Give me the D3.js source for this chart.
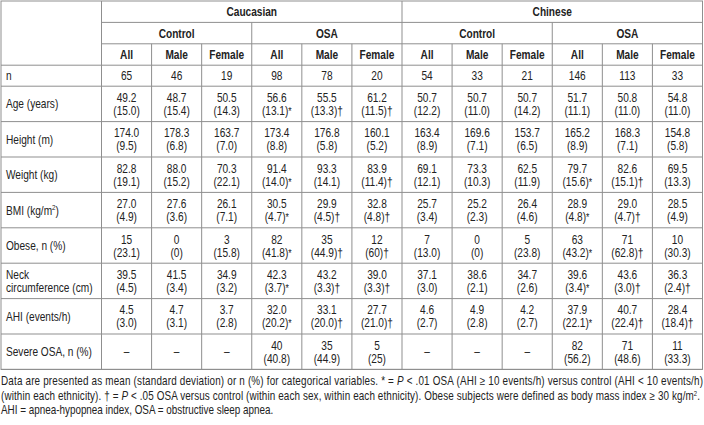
<!DOCTYPE html>
<html><head><meta charset="utf-8">
<script src="https://cdn.jsdelivr.net/npm/d3@7"></script>
<style>
html,body{margin:0;padding:0;background:#fff;}
svg{display:block;}
text{font-family:"Liberation Sans",Arial,sans-serif;fill:#222;}
</style></head>
<body>
<svg id="chart" width="704" height="425"></svg>
<script>
// ---- data ----
const ethnicities = ["Caucasian", "Chinese"];
const groups = ["Control", "OSA"];
const sexes = ["All", "Male", "Female"];
const rowLabels = ["n", "Age (years)", "Height (m)", "Weight (kg)", "BMI (kg/m²)", "Obese, n (%)", "Neck|circumference (cm)", "AHI (events/h)", "Severe OSA, n (%)"];
const nRow = ["65", "46", "19", "98", "78", "20", "54", "33", "21", "146", "113", "33"];
const ageRow = ["49.2 (15.0)", "48.7 (15.4)", "50.5 (14.3)", "56.6 (13.1)*", "55.5 (13.3)†", "61.2 (11.5)†", "50.7 (12.2)", "50.7 (11.0)", "50.7 (14.2)", "51.7 (11.1)", "50.8 (11.0)", "54.8 (11.0)"];
const heightRow = ["174.0 (9.5)", "178.3 (6.8)", "163.7 (7.0)", "173.4 (8.8)", "176.8 (5.8)", "160.1 (5.2)", "163.4 (8.9)", "169.6 (7.1)", "153.7 (6.5)", "165.2 (8.9)", "168.3 (7.1)", "154.8 (5.8)"];
const weightRow = ["82.8 (19.1)", "88.0 (15.2)", "70.3 (22.1)", "91.4 (14.0)*", "93.3 (14.1)", "83.9 (11.4)†", "69.1 (12.1)", "73.3 (10.3)", "62.5 (11.9)", "79.7 (15.6)*", "82.6 (15.1)†", "69.5 (13.3)"];
const bmiRow = ["27.0 (4.9)", "27.6 (3.6)", "26.1 (7.1)", "30.5 (4.7)*", "29.9 (4.5)†", "32.8 (4.8)†", "25.7 (3.4)", "25.2 (2.3)", "26.4 (4.6)", "28.9 (4.8)*", "29.0 (4.7)†", "28.5 (4.9)"];
const obeseRow = ["15 (23.1)", "0 (0)", "3 (15.8)", "82 (41.8)*", "35 (44.9)†", "12 (60)†", "7 (13.0)", "0 (0)", "5 (23.8)", "63 (43.2)*", "71 (62.8)†", "10 (30.3)"];
const neckRow = ["39.5 (4.5)", "41.5 (3.4)", "34.9 (3.2)", "42.3 (3.7)*", "43.2 (3.3)†", "39.0 (3.3)†", "37.1 (3.0)", "38.6 (2.1)", "34.7 (2.6)", "39.6 (3.4)*", "43.6 (3.0)†", "36.3 (2.4)†"];
const ahiRow = ["4.5 (3.0)", "4.7 (3.1)", "3.7 (2.8)", "32.0 (20.2)*", "33.1 (20.0)†", "27.7 (21.0)†", "4.6 (2.7)", "4.9 (2.8)", "4.2 (2.7)", "37.9 (22.1)*", "40.7 (22.4)†", "28.4 (18.4)†"];
const severeRow = ["–", "–", "–", "40 (40.8)", "35 (44.9)", "5 (25)", "–", "–", "–", "82 (56.2)", "71 (48.6)", "11 (33.3)"];
const footnote = [
  "Data are presented as mean (standard deviation) or n (%) for categorical variables. * = |P| < .01 OSA (AHI ≥ 10 events/h) versus control (AHI < 10 events/h)",
  "(within each ethnicity). † = |P| < .05 OSA versus control (within each sex, within each ethnicity). Obese subjects were defined as body mass index ≥ 30 kg/m².",
  "AHI = apnea-hypopnea index, OSA = obstructive sleep apnea."
];

// ---- layout ----
const rows = [nRow, ageRow, heightRow, weightRow, bmiRow, obeseRow, neckRow, ahiRow, severeRow];
const svg = d3.select("#chart");
const tLeft = 1, tRight = 702.5, firstColW = 100.5;
const ncol = ethnicities.length * groups.length * sexes.length;
const x = d3.scaleLinear().domain([0, ncol]).range([tLeft + firstColW, tRight]);
const tTop = 1, hdrH = 21.4, nH = 21, rowH = 35.4;
const hdrY = d3.scaleLinear().domain([0, 3]).range([tTop, tTop + 3 * hdrH]);
const bodyTop = tTop + 3 * hdrH;
const yRow = i => i === 0 ? bodyTop : bodyTop + nH + (i - 1) * rowH;
const rowHeight = i => i === 0 ? nH : rowH;
const tBottom = yRow(rows.length);
const lineColor = "#8f8f8f";
const fs = 12.5;
const SX = 0.81;

const g = svg.append("g");
function hline(x1, x2, y) {
  g.append("line").attr("x1", x1).attr("x2", x2).attr("y1", y).attr("y2", y)
    .attr("stroke", lineColor).attr("stroke-width", 1);
}
function vline(xx, y1, y2) {
  g.append("line").attr("x1", xx).attr("x2", xx).attr("y1", y1).attr("y2", y2)
    .attr("stroke", lineColor).attr("stroke-width", 1);
}

g.append("rect").attr("x", tLeft).attr("y", tTop).attr("width", tRight - tLeft).attr("height", tBottom - tTop)
  .attr("fill", "none").attr("stroke", lineColor).attr("stroke-width", 1);

hline(x(0), tRight, hdrY(1));
hline(x(0), tRight, hdrY(2));
for (let i = 0; i <= rows.length; i++) hline(tLeft, tRight, yRow(i));
vline(x(0), tTop, tBottom);
for (let c = 1; c < ncol; c++) {
  const yStart = c % 6 === 0 ? tTop : (c % 3 === 0 ? hdrY(1) : hdrY(2));
  vline(x(c), yStart, tBottom);
}

const txt = g.append("g");
// condensed text: horizontal scale applied via transform
function addText(xx, yy, anchor, size, bold) {
  return txt.append("text")
    .attr("transform", `translate(${xx},${yy}) scale(${SX},1)`)
    .attr("text-anchor", anchor).attr("font-size", size)
    .attr("font-weight", bold ? "bold" : "normal");
}
function center(xx, yc, s, bold) {
  return addText(xx, yc + fs * 0.36, "middle", fs, bold).text(s);
}
ethnicities.forEach((e, ei) => {
  center((x(ei * 6) + x(ei * 6 + 6)) / 2, (hdrY(0) + hdrY(1)) / 2, e, true);
  groups.forEach((gr, gi) => {
    const c0 = ei * 6 + gi * 3;
    center((x(c0) + x(c0 + 3)) / 2, (hdrY(1) + hdrY(2)) / 2, gr, true);
    sexes.forEach((s, si) => {
      const c = c0 + si;
      center((x(c) + x(c + 1)) / 2, (hdrY(2) + hdrY(3)) / 2, s, true);
    });
  });
});

rowLabels.forEach((lab, i) => {
  const parts = lab.split("|");
  const yc = yRow(i) + rowHeight(i) / 2;
  parts.forEach((p, k) => {
    const yy = parts.length === 1 ? yc : yc + (k - 0.5) * 13;
    const t = addText(6, yy + fs * 0.36, "start", fs, false);
    if (p.includes("²")) {
      const [a, b] = p.split("²");
      t.append("tspan").text(a);
      t.append("tspan").attr("font-size", fs * 0.62).attr("dy", -4.5).text("2");
      t.append("tspan").attr("dy", 4.5).text(b);
    } else t.text(p);
  });
});

rows.forEach((r, i) => {
  const yc = yRow(i) + rowHeight(i) / 2;
  r.forEach((v, c) => {
    const xc = (x(c) + x(c + 1)) / 2;
    const sp = v.indexOf(" ");
    if (sp < 0) { center(xc, yc, v, false); return; }
    center(xc, yc - 6.5, v.slice(0, sp), false);
    let second = v.slice(sp + 1);
    let flag = "";
    const last = second.slice(-1);
    if (last === "*" || last === "†") { flag = last; second = second.slice(0, -1); }
    const t = center(xc, yc + 6.5, "", false);
    t.append("tspan").text(second);
    if (flag === "*") t.append("tspan").attr("font-size", fs * 0.85).text("*");
    else if (flag) t.append("tspan").text(flag);
  });
});

const fnSize = 12.2;
const fnY = [385, 399.5, 414];
const fnLen = [702, 699, null];
footnote.forEach((line, k) => {
  const t = addText(1, fnY[k], "start", fnSize, false);
  if (fnLen[k]) t.attr("textLength", fnLen[k] / SX).attr("lengthAdjust", "spacing");
  line.split("|").forEach((seg, j) => {
    const ts = t.append("tspan");
    if (j % 2 === 1) ts.attr("font-style", "italic");
    if (seg.includes("²")) {
      const [a, b] = seg.split("²");
      ts.text(a);
      t.append("tspan").attr("font-size", fnSize * 0.6).attr("dy", -4).text("2");
      t.append("tspan").attr("dy", 4).text(b);
    } else ts.text(seg);
  });
});
</script>
</body></html>
